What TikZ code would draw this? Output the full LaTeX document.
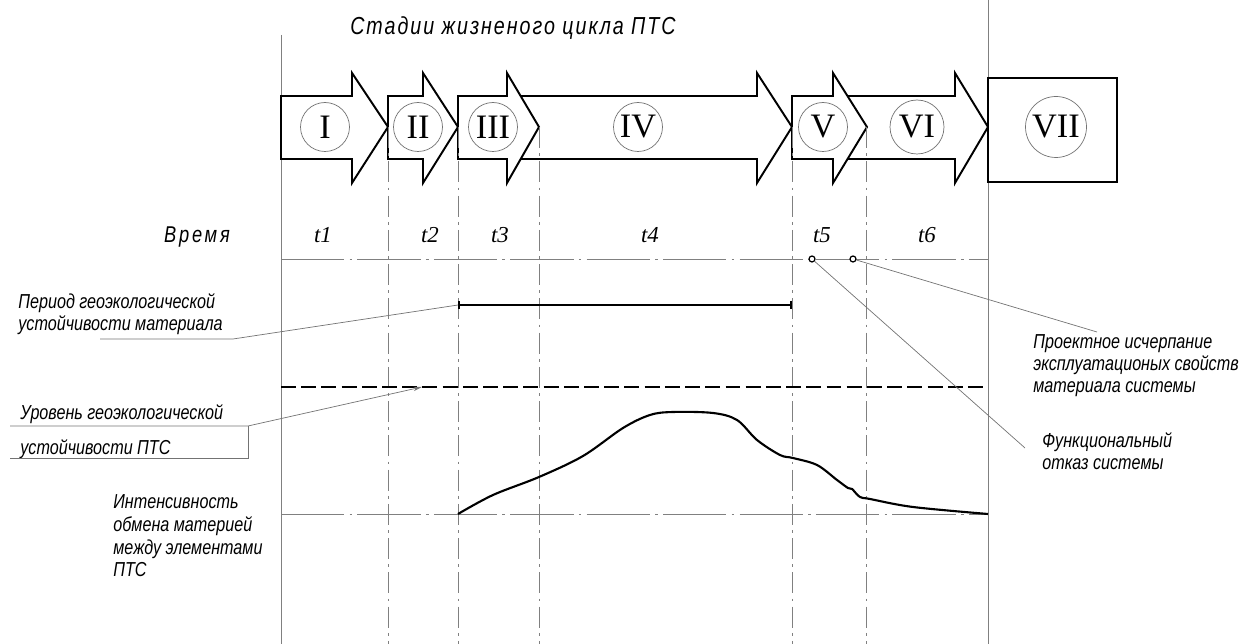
\documentclass[tikz,border=0pt]{standalone}
\usepackage{fontspec}
\setmainfont{Liberation Serif}
\newfontfamily\gost[FakeStretch=0.8]{Liberation Sans}
\usetikzlibrary{arrows.meta}

\newcommand\stagearrow[3]{%
  \draw[stage] (#1,96) -- (#2,96) -- (#2,73) -- (#3,127) -- (#2,183) -- (#2,159) -- (#1,159) -- cycle;}

\begin{document}
\begin{tikzpicture}[x=0.02cm,y=-0.02cm,
    stage/.style={draw=black,fill=white,line width=1.1pt,line join=miter},
    num/.style={circle,draw=black!55,line width=0.4pt,inner sep=0pt,minimum size=0.98cm,font=\fontsize{19.5}{19.5}\selectfont},
    tlab/.style={font=\fontsize{13}{13}\selectfont\itshape},
    gtext/.style={font=\gost\itshape\fontsize{11.5}{12.6}\selectfont},
    note/.style={gtext,align=left,anchor=west,inner sep=0pt},
    grid/.style={draw=black!50,line width=0.45pt},
    dashdoth/.style={grid,dash pattern=on 36pt off 3pt on 1.5pt off 3pt},
    dashdotv/.style={grid,dash pattern=on 12pt off 3pt on 1.5pt off 3pt},
    lead/.style={draw=black!55,line width=0.4pt},
    heavy/.style={line width=1.2pt},
    mark point/.style={circle,draw,line width=0.7pt,fill=white,inner sep=0pt,minimum size=0.12cm}]
\useasboundingbox (0,0) rectangle (1248,644);

\draw[grid] (281,35) -- (281,644);
\draw[grid] (988,0) -- (988,644);

% stages, the later arrow body hidden under the earlier head
\stagearrow{281}{352}{388}
\stagearrow{388}{423}{458}
\stagearrow{470}{757}{792}
\stagearrow{458}{507}{539}
\stagearrow{810}{955}{988}
\stagearrow{792}{833}{867}
\draw[stage] (988,78) rectangle (1117,182);

\foreach \x in {388,458,539,792,866}
  \draw[dashdotv] (\x,127) -- (\x,644);

\node[num] (s1) at (325,127) {I};
\node[num] (s2) at (418,127) {II};
\node[num] (s3) at (493,127) {III};
\node[num] (s4) at (638,127) {IV};
\node[num] (s5) at (823,127) {V};
\node[num,minimum size=1.08cm] (s6) at (917,127) {VI};
\node[num,minimum size=1.22cm] (s7) at (1056,127) {VII};

\node[font=\gost\itshape\addfontfeatures{LetterSpace=8}\fontsize{14}{14}\selectfont] (title) at (513,28) {Стадии жизненого цикла ПТС};
\node[font=\gost\itshape\addfontfeatures{LetterSpace=12}\fontsize{13}{13}\selectfont] (time) at (197,237) {Время};

\node[tlab] (t1) at (323,235) {t1};
\node[tlab] (t2) at (430,235) {t2};
\node[tlab] (t3) at (500,235) {t3};
\node[tlab] (t4) at (650,235) {t4};
\node[tlab] (t5) at (822,235) {t5};
\node[tlab] (t6) at (927,235) {t6};

\draw[dashdoth] (281,259) -- (988,259);
\draw[dashdoth] (281,514) -- (988,514);
\draw[heavy,dash pattern=on 8.5pt off 3pt] (281,387) -- (988,387);

\coordinate (pa) at (458,305);
\coordinate (pb) at (792,305);
\draw[heavy,{Bar[width=5pt]}-{Bar[width=5pt]}] (pa) -- (pb);

\node[mark point] (f1) at (812,259) {};
\node[mark point] (f2) at (853,259) {};

% exchange intensity
\draw[heavy,line join=round] plot[smooth,tension=0.55] coordinates {(458,514) (493,495) (539,477) (583,456)
  (623,428) (650,415) (673,412) (713,413) (737,420) (757,440) (780,455) (793,458) (817,465) (837,480)
  (848,488) (852,489) (860,497) (870,499) (913,507) (988,514)};

\node[note] (period) at (18,314) {Период геоэкологической\\устойчивости материала};
\draw[lead] (100,339) -- (233,339) -- (pa);

\coordinate (lt) at (422,387);
\node[note,font=\gost\itshape\fontsize{11.5}{19.9}\selectfont] (level) at (20,432) {Уровень геоэкологической\\устойчивости ПТС};
\draw[lead] (10,458) -- (248,458) -- (248,426);
\draw[lead,-{Stealth[length=5pt,width=2.5pt]}] (10,426) -- (248,426) -- (lt);

\node[note,font=\gost\itshape\fontsize{11.5}{12.9}\selectfont] (intens) at (113,536) {Интенсивность\\обмена материей\\между элементами\\ПТС};

\node[note] (design) at (1033,366) {Проектное исчерпание\\эксплуатационых свойств\\материала системы};
\node[note] (failure) at (1042,451) {Функциональный\\отказ системы};
\coordinate (de) at (1097,332);
\coordinate (fe) at (1025,448);
\draw[lead] (f2) -- (de);
\draw[lead] (f1) -- (fe);
\end{tikzpicture}
\end{document}
